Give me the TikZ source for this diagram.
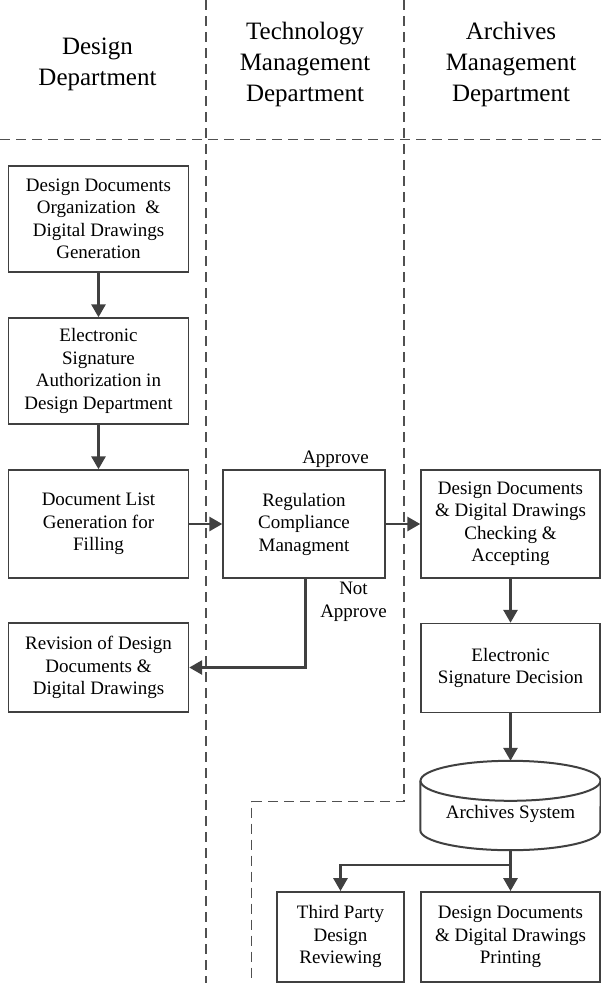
\documentclass[tikz,border=0pt]{standalone}
\usepackage{fontspec}
\setmainfont{Liberation Serif}
\usetikzlibrary{arrows.meta,calc}
\definecolor{lc}{HTML}{404040}
\definecolor{dc}{HTML}{505050}
\tikzset{
  box/.style={draw=lc, line width=1.4pt, rectangle, inner sep=0pt, align=center,
    font=\fontsize{19}{22.5}\selectfont},
  hdr/.style={align=center, inner sep=0pt, font=\fontsize{25}{31}\selectfont},
  lbl/.style={align=center, inner sep=0pt, font=\fontsize{19}{22.5}\selectfont},
  arr/.style={draw=lc, line width=2.8pt, -{Triangle[length=13pt,width=14pt]}},
  link/.style={draw=lc, line width=2.8pt},
  lane/.style={draw=dc, line width=1.2pt, dash pattern=on 10pt off 6pt},
  cylline/.style={draw=lc, line width=2pt}
}
\begin{document}
\begin{tikzpicture}[x=1pt,y=-1pt]
\useasboundingbox (0,0) rectangle (601,983);
% swimlane separators
\coordinate (v1t) at (206,0);
\coordinate (v1b) at (206,983);
\coordinate (v2t) at (404,0);
\coordinate (v2m) at (404,801.5);
\coordinate (v3m) at (251.5,801.5);
\coordinate (v3b) at (251.5,983);
\coordinate (hl) at (0,139.5);
\coordinate (hr) at (601,139.5);
\draw[lane] (v1t) -- (v1b);
\draw[lane] (v2t) -- (v2m) -- (v3m) -- (v3b);
\draw[lane] (hl) -- (hr);
% headers
\node[hdr] (h1) at (97.5,64) {Design\\Department};
\node[hdr] (h2) at (305,64) {Technology\\Management\\Department};
\node[hdr] (h3) at (511,64) {Archives\\Management\\Department};
% boxes
\node[box, minimum width=180pt, minimum height=106pt] (b1) at (98.5,219) {Design Documents\\Organization~ \&\\Digital Drawings\\Generation};
\node[box, minimum width=180pt, minimum height=106pt] (b2) at (98.5,371) {Electronic\\Signature\\Authorization in\\Design Department};
\node[box, minimum width=180pt, minimum height=108pt] (b3) at (98.5,524) {Document List\\Generation for\\Filling};
\node[box, minimum width=180pt, minimum height=89pt] (b4) at (98.5,667.5) {Revision of Design\\Documents \&\\Digital Drawings};
\node[box, minimum width=162pt, minimum height=108pt] (reg) at (304,524) {Regulation\\Compliance\\Managment};
\node[box, minimum width=179pt, minimum height=108pt] (chk) at (510.5,524) {Design Documents\\\& Digital Drawings\\Checking \&\\Accepting};
\node[box, minimum width=179pt, minimum height=89pt] (esd) at (510.5,668) {Electronic\\Signature Decision};
\node[box, minimum width=127pt, minimum height=90pt] (tp) at (340.5,936.8) {Third Party\\Design\\Reviewing};
\node[box, minimum width=179pt, minimum height=90pt] (pr) at (510.5,936.8) {Design Documents\\\& Digital Drawings\\Printing};
% cylinder
\node[rectangle, inner sep=0pt, minimum width=180pt, minimum height=89pt] (cyl) at (510.5,805.5) {};
\draw[cylline] ([yshift=-20pt]cyl.north) ellipse [x radius=90pt, y radius=20pt];
\draw[cylline] ([yshift=-20pt]cyl.north west) -- ([yshift=20pt]cyl.south west)
  arc[start angle=180, end angle=360, x radius=90pt, y radius=20pt]
  -- ([yshift=-20pt]cyl.north east);
\node[lbl] (cyltxt) at ([yshift=-8pt]cyl.center) {Archives System};
% labels
\node[lbl, anchor=base] (ap) at (335.5,463) {Approve};
\node[lbl, anchor=base] (nap) at (353.5,617) {Not\\Approve};
% connectors
\draw[arr] (b1) -- (b2);
\draw[arr] (b2) -- (b3);
\draw[arr] (b3) -- (reg);
\draw[arr] (reg) -- (chk);
\draw[arr] ([xshift=1.5pt]reg.south) |- (b4.east);
\draw[arr] (chk) -- (esd);
\draw[arr] (esd) -- (cyl.north);
\coordinate (j) at (510.5,865);
\draw[link] (cyl.south) -- (j);
\draw[arr] (j) -| (tp.north);
\draw[arr] (j) -- (pr.north);
\end{tikzpicture}
\end{document}
